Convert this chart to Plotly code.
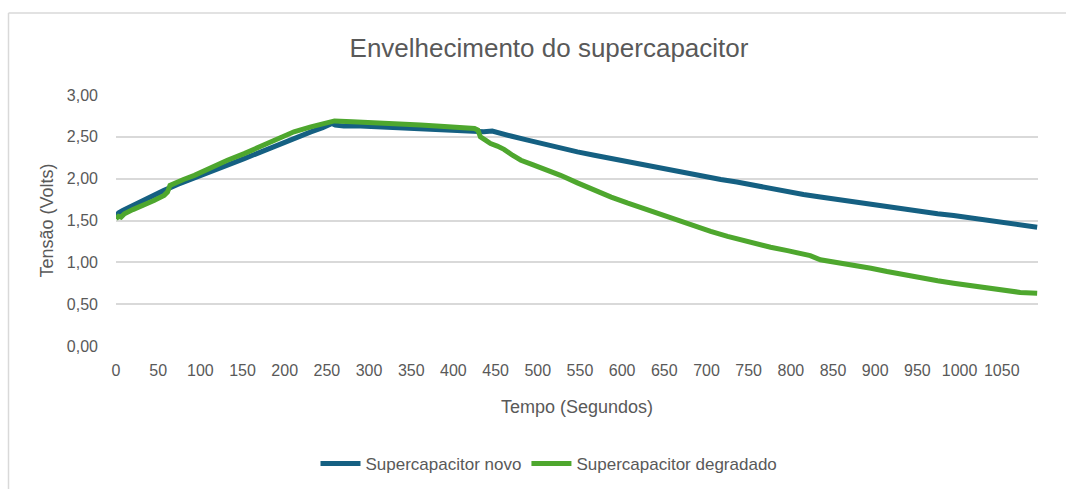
import plotly.graph_objects as go

# ---- data ----
t_novo = [0, 3, 8, 20, 33, 45, 57, 73, 90, 112, 132, 152, 172, 191, 211, 231, 245, 256,
          260, 270, 290, 310, 330, 350, 380, 410, 428, 436, 446, 455, 468, 488, 507, 527,
          547, 567, 587, 606, 626, 646, 666, 695, 717, 736, 756, 776, 796, 815, 835, 855,
          875, 895, 914, 934, 954, 974, 993, 1013, 1033, 1052, 1072, 1092]
v_novo = [1.55, 1.59, 1.62, 1.68, 1.75, 1.80, 1.86, 1.93, 2.00, 2.08, 2.16, 2.24, 2.32, 2.40,
          2.48, 2.56, 2.61, 2.66, 2.64, 2.63, 2.63, 2.62, 2.61, 2.60, 2.59, 2.58, 2.56, 2.56,
          2.57, 2.54, 2.51, 2.46, 2.41, 2.37, 2.32, 2.28, 2.24, 2.21, 2.17, 2.13, 2.09, 2.03,
          1.99, 1.96, 1.92, 1.88, 1.84, 1.81, 1.78, 1.75, 1.72, 1.69, 1.66, 1.63, 1.61, 1.58,
          1.56, 1.53, 1.50, 1.47, 1.44, 1.42]

t_degr = [0, 3, 6, 10, 20, 33, 45, 57, 61, 64, 70, 80, 93, 112, 132, 152, 172, 191, 211,
          231, 245, 251, 259, 280, 310, 340, 361, 380, 397, 415, 425, 429, 432, 438, 444,
          452, 460, 470, 480, 493, 507, 527, 547, 567, 587, 606, 626, 646, 666, 685, 705,
          725, 736, 756, 776, 796, 815, 823, 835, 855, 875, 895, 914, 934, 954, 974, 993,
          1013, 1033, 1052, 1072, 1092]
v_degr = [1.52, 1.55, 1.54, 1.58, 1.63, 1.68, 1.74, 1.80, 1.84, 1.92, 1.95, 1.99, 2.04, 2.13,
          2.22, 2.30, 2.39, 2.47, 2.56, 2.62, 2.66, 2.68, 2.69, 2.68, 2.67, 2.65, 2.64, 2.63,
          2.62, 2.61, 2.60, 2.58, 2.50, 2.46, 2.42, 2.39, 2.35, 2.28, 2.22, 2.17, 2.12, 2.04,
          1.95, 1.86, 1.78, 1.71, 1.64, 1.57, 1.50, 1.43, 1.37, 1.31, 1.28, 1.23, 1.18, 1.14,
          1.10, 1.08, 1.03, 1.00, 0.97, 0.93, 0.89, 0.85, 0.81, 0.78, 0.75, 0.72, 0.69, 0.67,
          0.64, 0.63]

x_ticks = list(range(0, 1051, 50))
y_ticks = [0, 0.5, 1.0, 1.5, 2.0, 2.5, 3.0]
y_labels = ["0,00", "0,50", "1,00", "1,50", "2,00", "2,50", "3,00"]

BLUE = "#156082"
GREEN = "#4EA72E"
TXT = "#595959"
GRID = "#D9D9D9"
FONT = "Liberation Sans, Arial, sans-serif"

fig = go.Figure()
fig.add_trace(go.Scatter(x=t_novo, y=v_novo, mode="lines", name="Supercapacitor novo",
                         line=dict(color=BLUE, width=5)))
fig.add_trace(go.Scatter(x=t_degr, y=v_degr, mode="lines", name="Supercapacitor degradado",
                         line=dict(color=GREEN, width=5)))

# the page body margin is removed in post_script, so figure pixels equal page pixels
W, H = 1066, 489
L, R, T, B = 116, 1038, 95, 346

def px(xp):
    return (xp - L) / (R - L)

def py(yp):
    return (B - yp) / (B - T)

fig.update_layout(
    width=W, height=H,
    margin=dict(l=L, r=W - R, t=T, b=H - B, autoexpand=False),
    paper_bgcolor="white", plot_bgcolor="white",
    font=dict(family=FONT, color=TXT, size=16),
    title=dict(text="Envelhecimento do supercapacitor", x=549 / W, xanchor="center",
               y=1 - 48 / H, yanchor="middle",
               font=dict(size=26, color=TXT, family=FONT)),
    showlegend=True,
    legend=dict(orientation="h", x=px(549), xanchor="center",
                y=py(464), yanchor="middle",
                font=dict(size=17, color=TXT), itemwidth=40, tracegroupgap=0),
    xaxis=dict(range=[0, 1093], tickvals=x_ticks, ticktext=[str(v) for v in x_ticks],
               showgrid=False, zeroline=False, showline=False, ticks="",
               tickfont=dict(size=16, color=TXT), ticklabelstandoff=13,
               title=dict(text="Tempo (Segundos)", font=dict(size=18, color=TXT), standoff=22)),
    yaxis=dict(range=[0, 3.0], tickvals=y_ticks, ticktext=y_labels,
               showgrid=True, gridcolor=GRID, gridwidth=1.5, zeroline=False, showline=False,
               ticks="", tickfont=dict(size=16, color=TXT), ticklabelstandoff=17,
               title=dict(text="Tensão (Volts)", font=dict(size=18, color=TXT), standoff=8)),
    shapes=[
        dict(type="line", xref="paper", yref="paper",
             x0=px(8.5), x1=px(W + 5), y0=py(13), y1=py(13),
             line=dict(color=GRID, width=1.5), layer="below"),
        dict(type="line", xref="paper", yref="paper",
             x0=px(8.5), x1=px(8.5), y0=py(13), y1=py(H + 5),
             line=dict(color=GRID, width=1.5), layer="below"),
    ],
)

fig.write_html("out.html", config={"displayModeBar": False},
               post_script="document.body.style.margin='0';document.body.style.overflow='hidden';")
